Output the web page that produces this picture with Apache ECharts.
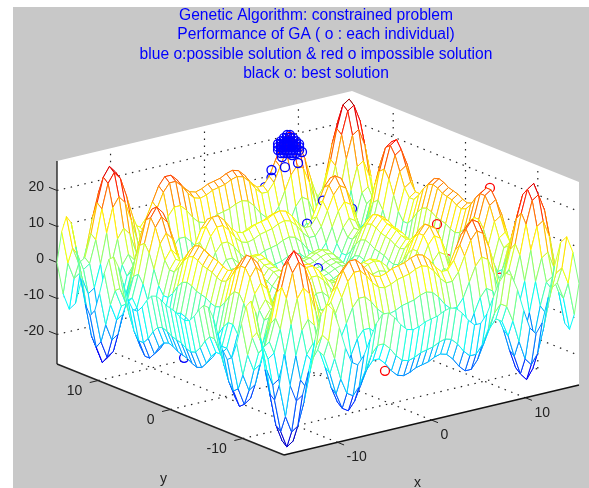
<!DOCTYPE html>
<html>
<head>
<meta charset="utf-8">
<style>
  html, body { margin: 0; padding: 0; background: #fff; }
  #main { width: 589px; height: 488px; }
</style>
<script src="https://cdn.jsdelivr.net/npm/echarts@6/dist/echarts.min.js"></script>
</head>
<body>
<div id="main"></div>
<script>
var xProfile = [-0.1,-9.2,-13.9,-12.7,-6.5,1.7,8.4,11.0,9.0,3.7,-2.4,-6.8,-7.9,-5.7,-1.7,2.3,4.5,4.5,2.8,0.4,-1.3,-1.8,-1.3,-0.4,0,0.4,1.3,1.8,1.3,-0.4,-2.8,-4.5,-4.5,-2.3,1.7,5.7,7.9,6.8,2.4,-3.7,-9.0,-11.0,-8.4,-1.7,6.5,12.7,13.9,9.2,0.1];
var yProfile = [-0.1,-9.2,-13.9,-12.7,-6.5,1.7,8.4,11.0,9.0,3.7,-2.4,-6.8,-7.9,-5.7,-1.7,2.3,4.5,4.5,2.8,0.4,-1.3,-1.8,-1.3,-0.4,0,0.4,1.3,1.8,1.3,-0.4,-2.8,-4.5,-4.5,-2.3,1.7,5.7,7.9,6.8,2.4,-3.7,-9.0,-11.0,-8.4,-1.7,6.5,12.7,13.9,9.2,0.1];

var xTicks = [-10, 0, 10];
var yTicks = [-10, 0, 10];
var zTicks = [-20, -10, 0, 10, 20];

// individuals, [x, y, z]
var bluePoints = [
  [9.66,7.85,5.6],[6.57,7.85,9.7],[5.09,8.13,4.0],[1.44,14.73,9.6],[5.42,14.38,8.9],[5.9,14.1,13.6],[5.9,14.1,11.5],
  [-14.1,0.2,-15],[0.14,0.19,1.1],
  [5.57,12.22,18.9],[5.89,12.22,15.9],[6.64,12.22,18.8],[7.28,12.22,16.2],[7.7,12.22,19]
];
// the tight group on the ridge
var clusterPoints = [
  [6.11,12.22,24.7],[6.43,12.22,24.5],
  [5.79,12.22,24.1],[6.11,12.22,23.9],[6.43,12.22,23.7],[6.75,12.22,23.5],
  [5.47,12.22,23.4],[5.79,12.22,23.2],[6.11,12.22,23],[6.43,12.22,22.8],[6.75,12.22,22.6],[7.07,12.22,22.4],
  [5.15,12.22,22.8],[5.47,12.22,22.6],[5.79,12.22,22.4],[6.11,12.22,22.2],[6.43,12.22,22],[6.75,12.22,21.8],[7.07,12.22,21.6],[7.39,12.22,21.4],
  [5.15,12.22,22],[5.47,12.22,21.8],[5.79,12.22,21.6],[6.11,12.22,21.4],[6.43,12.22,21.2],[6.75,12.22,21],[7.07,12.22,20.8],[7.39,12.22,20.6],
  [5.15,12.22,21.1],[5.47,12.22,20.9],[5.79,12.22,20.7],[6.11,12.22,20.5],[6.43,12.22,20.3],[6.75,12.22,20.1],[7.07,12.22,19.9],[7.39,12.22,19.7],
  [5.47,12.22,20.1],[5.79,12.22,19.9],[6.11,12.22,19.7],[6.43,12.22,19.5],[6.75,12.22,19.3],[7.07,12.22,19.1]
];
var redPoints = [
  [12.25,-0.54,6.4],[14.39,-5.08,18.8],[-7.32,-1.91,1.8],[1.45,-9.88,-6],[-3.72,-14.1,-13.5],[12.5,-1.7,-2.5],[12.9,-8.4,-2.5],
  [6.64,12.5,23.6],[5.79,12.5,21.3]
];

var titleLines = [
  'Genetic Algorithm: constrained problem',
  'Performance of GA ( o : each individual)',
  'blue o:possible solution & red o impossible solution',
  'black o: best solution'
];

var XLIM = 15.7, ZLIM = 28.2;
var n = xProfile.length;
var step = 2 * XLIM / (n - 1);
var allBlue = bluePoints.concat(clusterPoints);

// orthographic view, result is in page units of the hidden axes
function project(x, y, z) {
  return [318 + 9.395 * x - 7.23 * y, 273 - 2.23 * x - 2.9 * y - 3.6 * z];
}
function depth(x, y) { return 2.23 * x + 2.9 * y; }
function gx(i) { return -XLIM + i * step; }
function height(i, j) { return xProfile[i] + yProfile[j]; }

// back to front list, quads and markers together
var items = [];
for (var i = 0; i < n - 1; i++) {
  for (var j = 0; j < n - 1; j++) {
    var mean = (height(i, j) + height(i + 1, j) + height(i, j + 1) + height(i + 1, j + 1)) / 4;
    items.push([0, i, j, mean, depth(gx(i) + step / 2, gx(j) + step / 2)]);
  }
}
allBlue.forEach(function (p, k) { items.push([1, k, 0, p[2], depth(p[0], p[1])]); });
redPoints.forEach(function (p, k) { items.push([2, k, 0, p[2], depth(p[0], p[1])]); });
items.sort(function (a, b) { return b[4] - a[4]; });

var chart = echarts.init(document.getElementById('main'), null, { renderer: 'canvas' });

function renderFrame(params, api) {
  function pt(x, y, z) { return api.coord(project(x, y, z)); }
  var kids = [];
  function seg(a, b, color, width, dash) {
    kids.push({ type: 'line', shape: { x1: a[0], y1: a[1], x2: b[0], y2: b[1] },
      style: { stroke: color, lineWidth: width, lineDash: dash || null } });
  }
  function dotted(a, b) { seg(a, b, '#222', 1.2, [1.5, 5.5]); }
  function label(p, text, dx, dy, align) {
    kids.push({ type: 'text', style: { text: text, x: p[0] + dx, y: p[1] + dy, fill: '#222',
      font: '14px "Liberation Sans"', align: align, verticalAlign: 'middle' } });
  }
  var L = XLIM, Z = ZLIM;
  var o = api.coord([13, 7]), e = api.coord([589, 488]);
  kids.push({ type: 'rect', shape: { x: o[0], y: o[1], width: e[0] - o[0], height: e[1] - o[1] }, style: { fill: '#c8c8c8' } });
  kids.push({ type: 'polygon', shape: { points: [
    pt(-L, L, Z), pt(L, L, Z), pt(L, -L, Z), pt(L, -L, -Z), pt(-L, -L, -Z), pt(-L, L, -Z)
  ] }, style: { fill: '#fff' } });

  xTicks.forEach(function (v) {
    dotted(pt(v, -L, -Z), pt(v, L, -Z));
    dotted(pt(v, L, -Z), pt(v, L, Z));
  });
  yTicks.forEach(function (v) {
    dotted(pt(-L, v, -Z), pt(L, v, -Z));
    dotted(pt(L, v, -Z), pt(L, v, Z));
  });
  zTicks.forEach(function (v) {
    dotted(pt(-L, L, v), pt(L, L, v));
    dotted(pt(L, L, v), pt(L, -L, v));
  });

  seg(pt(-L, L, -Z), pt(-L, L, Z), '#333', 1.5);
  seg(pt(-L, L, -Z), pt(-L, -L, -Z), '#222', 1.5);
  seg(pt(-L, -L, -Z), pt(L, -L, -Z), '#111', 1.5);

  xTicks.forEach(function (v) {
    var p = pt(v, -L, -Z);
    seg(p, pt(v, -L - 0.9, -Z), '#222', 1);
    label(p, String(v), 9, 15, 'left');
  });
  yTicks.forEach(function (v) {
    var p = pt(-L, v, -Z);
    seg(p, pt(-L - 0.9, v, -Z), '#222', 1);
    label(p, String(v), -16, 11, 'right');
  });
  zTicks.forEach(function (v) {
    var p = pt(-L, L, v);
    seg(p, pt(-L, L + 1.1, v), '#222', 1);
    label(p, String(v), -13, -3, 'right');
  });
  label(pt(0, -L, -Z), 'x', -14, 63, 'center');
  label(pt(-L, 0, -Z), 'y', -7, 70, 'center');
  return { type: 'group', children: kids };
}

function renderSurface(params, api) {
  var kind = api.value(0), a = api.value(1), b = api.value(2);
  if (kind === 0) {
    var x0 = gx(a), x1 = gx(a + 1), y0 = gx(b), y1 = gx(b + 1);
    return { type: 'polygon', shape: { points: [
      api.coord(project(x0, y0, height(a, b))),
      api.coord(project(x1, y0, height(a + 1, b))),
      api.coord(project(x1, y1, height(a + 1, b + 1))),
      api.coord(project(x0, y1, height(a, b + 1)))
    ] }, style: { fill: '#fff', stroke: api.visual('color'), lineWidth: 1 } };
  }
  var list = kind === 1 ? allBlue : redPoints;
  var p = list[a];
  var c = api.coord(project(p[0], p[1], p[2]));
  return { type: 'circle', shape: { cx: c[0], cy: c[1], r: 4.5 },
    style: { fill: 'none', stroke: kind === 1 ? '#0000ff' : '#ff0000', lineWidth: 1.3 } };
}

chart.setOption({
  animation: false,
  backgroundColor: '#fff',
  title: {
    text: titleLines.join('\n'),
    left: 311, top: 1, textAlign: 'center',
    textStyle: { color: '#0000ff', fontFamily: 'Liberation Sans', fontSize: 15.6, fontWeight: 'normal', lineHeight: 19.3 }
  },
  grid: { left: 0, right: 0, top: 0, bottom: 0 },
  xAxis: { type: 'value', min: 0, max: 589, show: false },
  yAxis: { type: 'value', min: 0, max: 488, inverse: true, show: false },
  visualMap: {
    show: false, type: 'continuous', seriesIndex: 1, dimension: 3, min: -ZLIM, max: ZLIM,
    inRange: { color: ['#00007f','#0000ff','#007fff','#00ffff','#7fff7f','#ffff00','#ff7f00','#ff0000','#7f0000'] }
  },
  series: [
    { type: 'custom', coordinateSystem: 'cartesian2d', clip: false, silent: true, renderItem: renderFrame, data: [[0, 0]], z: 1 },
    { type: 'custom', coordinateSystem: 'cartesian2d', clip: false, silent: true, renderItem: renderSurface, data: items, z: 2,
      progressive: 0, encode: { x: 1, y: 2 } }
  ]
});
</script>
</body>
</html>
